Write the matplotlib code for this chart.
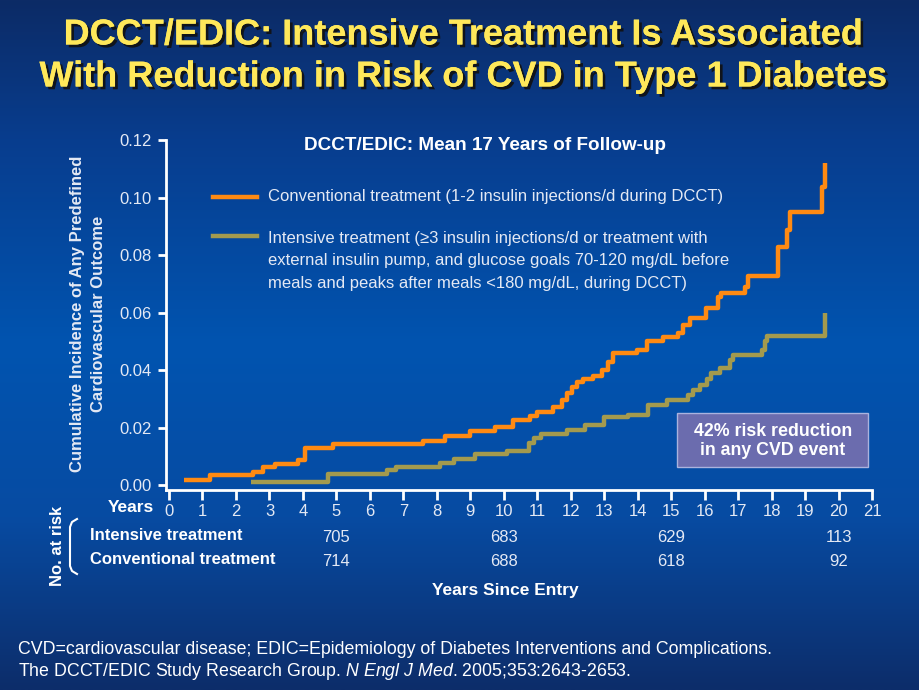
import numpy as np
import matplotlib
matplotlib.use("Agg")
import matplotlib.pyplot as plt
from matplotlib import font_manager
from matplotlib import patheffects as pe
from matplotlib.patches import FancyBboxPatch
from matplotlib.lines import Line2D
from matplotlib.colors import LinearSegmentedColormap

# data
conv_years = [0.45, 1.22, 2.5, 2.8, 3.17, 3.86, 4.06, 4.9, 7.6, 8.24, 9.0, 9.74, 10.28,
              10.78, 11.0, 11.46, 11.74, 11.9, 12.04, 12.19, 12.37, 12.66, 12.93, 13.1,
              13.26, 13.98, 14.28, 14.76, 15.2, 15.35, 15.56, 16.05, 16.4, 16.5, 17.2,
              17.3, 18.2, 18.46, 18.55, 19.5, 19.6]
conv_cum = [0.0017, 0.0035, 0.0046, 0.0064, 0.0075, 0.0089, 0.0128, 0.0143, 0.0154, 0.0170,
            0.0188, 0.0201, 0.0228, 0.0240, 0.0255, 0.0273, 0.0296, 0.0320, 0.0340, 0.0358,
            0.0368, 0.0379, 0.0400, 0.0429, 0.0460, 0.0470, 0.0500, 0.0515, 0.0528, 0.0557,
            0.0580, 0.0615, 0.0655, 0.0667, 0.0690, 0.0727, 0.0828, 0.0887, 0.0950, 0.1035,
            0.1120]
int_years = [2.45, 4.75, 6.5, 6.77, 8.1, 8.5, 9.14, 10.1, 10.75, 10.9, 11.1, 11.9, 12.42,
             13.0, 13.7, 14.3, 14.88, 15.5, 15.65, 15.86, 16.06, 16.2, 16.46, 16.76, 16.85,
             17.7, 17.8, 17.85, 19.6]
int_cum = [0.0012, 0.0040, 0.0052, 0.0064, 0.0077, 0.0090, 0.0108, 0.0120, 0.0148, 0.0163,
           0.0177, 0.0190, 0.0209, 0.0236, 0.0244, 0.0280, 0.0296, 0.0313, 0.0330, 0.0348,
           0.0370, 0.0390, 0.0407, 0.0435, 0.0452, 0.0470, 0.0500, 0.0520, 0.0600]

risk_years = [5, 10, 15, 20]
risk_intensive = [705, 683, 629, 113]
risk_conventional = [714, 688, 618, 92]

names = {f.name for f in font_manager.fontManager.ttflist}
NARROW = 'Liberation Sans Narrow' if 'Liberation Sans Narrow' in names else 'Liberation Sans'
ARIAL = 'Liberation Sans'
plt.rcParams['mathtext.fontset'] = 'custom'
plt.rcParams['mathtext.rm'] = ARIAL
plt.rcParams['mathtext.it'] = ARIAL + ':italic'

W, H = 920, 690
LIGHT = '#e4e9f4'
ORANGE = '#ff8a12'
OLIVE = '#a39a4e'


def px(x, y):
    return x / W, 1 - y / H


fig = plt.figure(figsize=(9.2, 6.9), dpi=100)

# background gradient
bg = fig.add_axes([0, 0, 1, 1], zorder=-5)
cmap = LinearSegmentedColormap.from_list(
    'bg', [(0.0, '#0c2b66'), (0.2, '#083d8e'), (0.5, '#0154b0'),
           (0.75, '#074ba2'), (1.0, '#0d2d6a')])
grad = np.linspace(0, 1, 256).reshape(-1, 1)
bg.imshow(grad, cmap=cmap, aspect='auto', extent=[0, 1, 0, 1], origin='upper')
bg.set_axis_off()

# title
shadow = [pe.withSimplePatchShadow(offset=(2, -2), shadow_rgbFace='#111111', alpha=0.9),
          pe.Normal()]
for txt, yy in [("DCCT/EDIC: Intensive Treatment Is Associated", 35),
                ("With Reduction in Risk of CVD in Type 1 Diabetes", 77)]:
    fig.text(*px(463, yy), txt, ha='center', va='center', color='#ffe85a',
             fontsize=26, fontweight='bold', family=NARROW, path_effects=shadow)

# main axes
ax = fig.add_axes([166 / W, 1 - 490 / H, (872 - 166) / W, 350 / H])
ax.patch.set_alpha(0)
ax.step(conv_years, conv_cum, where='post', color=ORANGE, lw=3.2, solid_capstyle='butt')
ax.step(int_years, int_cum, where='post', color=OLIVE, lw=3.2, solid_capstyle='butt')
ax.set_xlim(-0.09, 21)
ax.set_ylim(-0.0017, 0.12)
ax.set_xticks(range(0, 22))
ax.set_yticks([0, 0.02, 0.04, 0.06, 0.08, 0.10, 0.12])
ax.set_yticklabels(['0.00', '0.02', '0.04', '0.06', '0.08', '0.10', '0.12'])
for s in ['top', 'right']:
    ax.spines[s].set_visible(False)
for s in ['left', 'bottom']:
    ax.spines[s].set_color('white')
    ax.spines[s].set_linewidth(2)
ax.tick_params(axis='x', colors='white', length=7, width=2, pad=3, labelcolor=LIGHT,
               labelsize=12)
ax.tick_params(axis='y', colors='white', length=6, width=2, pad=4, labelcolor=LIGHT,
               labelsize=12)
for lab in ax.get_xticklabels() + ax.get_yticklabels():
    lab.set_family(NARROW)

# subtitle and legend
fig.text(*px(485, 145), "DCCT/EDIC: Mean 17 Years of Follow-up", ha='center', va='center',
         color='white', fontsize=13.6, fontweight='bold', family=ARIAL)
fig.add_artist(Line2D([213 / W, 257 / W], [1 - 197 / H] * 2, color=ORANGE, lw=3.2))
fig.add_artist(Line2D([213 / W, 257 / W], [1 - 236 / H] * 2, color=OLIVE, lw=3.2))
fig.text(*px(268, 197), "Conventional treatment (1-2 insulin injections/d during DCCT)",
         ha='left', va='center', color=LIGHT, fontsize=12, family=NARROW)
fig.text(*px(268, 261),
         "Intensive treatment (\u22653 insulin injections/d or treatment with\n"
         "external insulin pump, and glucose goals 70-120 mg/dL before\n"
         "meals and peaks after meals <180 mg/dL, during DCCT)",
         ha='left', va='center', color=LIGHT, fontsize=12, family=NARROW, linespacing=1.6)

# y label
fig.text(*px(88, 314), "Cumulative Incidence of Any Predefined\nCardiovascular Outcome",
         ha='center', va='center', rotation=90, color=LIGHT, fontsize=12,
         fontweight='bold', family=NARROW, linespacing=1.45)

# risk reduction box
box = FancyBboxPatch((677 / W, 1 - 467 / H), 191 / W, 54 / H, boxstyle='square,pad=0',
                     transform=fig.transFigure, facecolor='#6b6cae', edgecolor='#aab3de',
                     lw=1)
fig.add_artist(box)
fig.text(*px(773, 441), "42% risk reduction\nin any CVD event", ha='center', va='center',
         color='white', fontsize=12.8, fontweight='bold', family=ARIAL, linespacing=1.15)

# at-risk table
fig.text(*px(154, 508), "Years", ha='right', va='center', color='white', fontsize=12.5,
         fontweight='bold', family=NARROW)
fig.text(*px(90, 535), "Intensive treatment", ha='left', va='center', color='white',
         fontsize=12, fontweight='bold', family=NARROW)
fig.text(*px(90, 559), "Conventional treatment", ha='left', va='center', color='white',
         fontsize=12, fontweight='bold', family=NARROW)
for yr, a, b in zip(risk_years, risk_intensive, risk_conventional):
    xx = ax.transData.transform((yr, 0))[0] / fig.dpi / 9.2
    fig.text(xx, 1 - 537 / H, str(a), ha='center', va='center', color=LIGHT,
             fontsize=12, family=NARROW)
    fig.text(xx, 1 - 562 / H, str(b), ha='center', va='center', color=LIGHT,
             fontsize=12, family=NARROW)
fig.text(*px(505, 590), "Years Since Entry", ha='center', va='center', color='white',
         fontsize=12.5, fontweight='bold', family=NARROW)
fig.text(*px(58, 546), "No. at risk", ha='center', va='center', rotation=90,
         color='white', fontsize=12, fontweight='bold', family=ARIAL)
bx = np.array([77, 72, 70, 70, 72, 77])
by = np.array([519, 522, 527, 566, 571, 574])
fig.add_artist(Line2D(bx / W, 1 - by / H, color='white', lw=1.5))

# footer
fig.text(*px(18, 649), "CVD=cardiovascular disease; EDIC=Epidemiology of Diabetes "
         "Interventions and Complications.", ha='left', va='center', color='white',
         fontsize=12.8, family=ARIAL)
fig.text(*px(18, 672), "The DCCT/EDIC Study Research Group. $\\it{N\\ Engl\\ J\\ Med}$. "
         "2005;353:2643-2653.", ha='left', va='center', color='white', fontsize=12.8,
         family=ARIAL)

fig.savefig('out.png', dpi=100)
